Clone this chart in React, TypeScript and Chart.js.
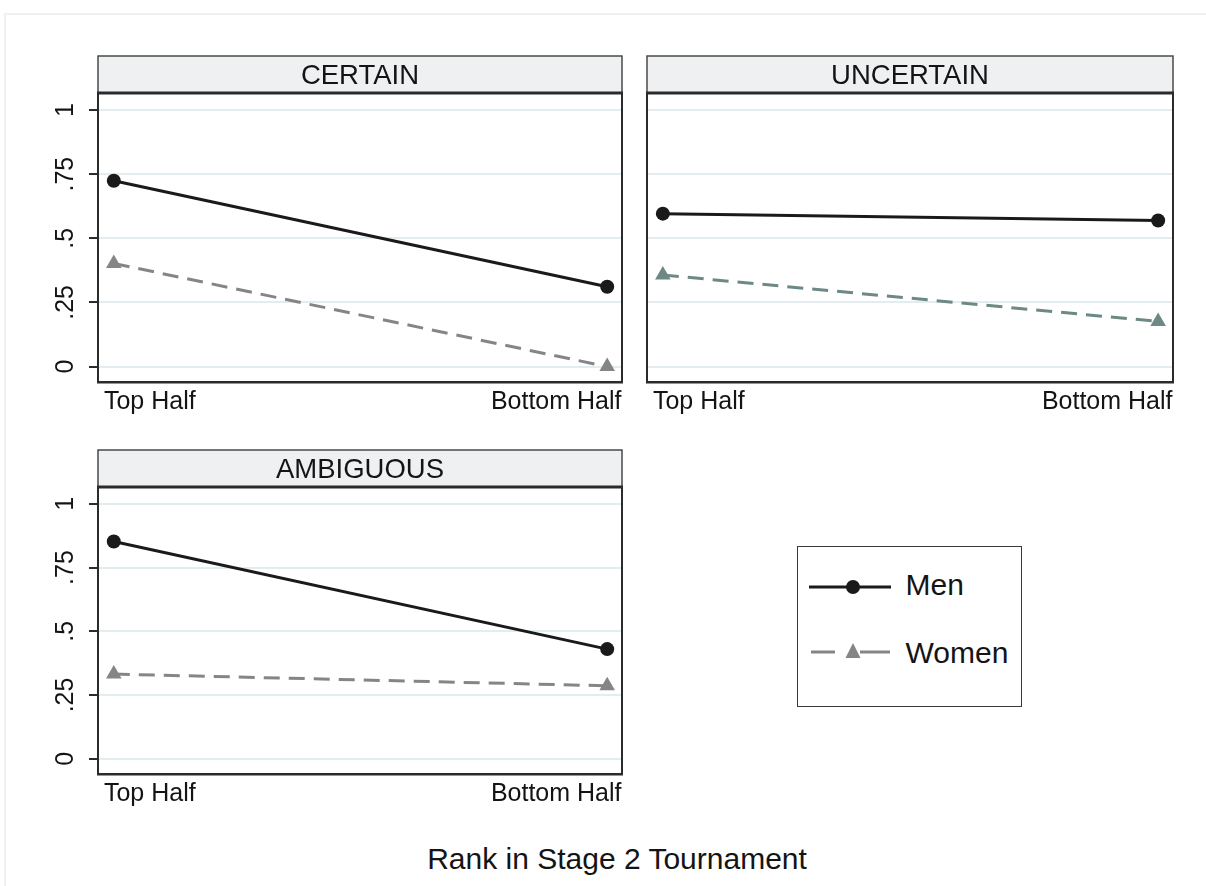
import React, { useEffect, useRef } from "react";
import { Chart, registerables } from "chart.js";

Chart.register(...registerables);

// ---------- data ----------
const categories = ["Top Half", "Bottom Half"];
const panelTitles = ["CERTAIN", "UNCERTAIN", "AMBIGUOUS"];
const seriesNames = ["Men", "Women"];
const menCertain = [0.724, 0.311];
const womenCertain = [0.402, 0.0];
const menUncertain = [0.596, 0.569];
const womenUncertain = [0.357, 0.176];
const menAmbiguous = [0.852, 0.43];
const womenAmbiguous = [0.332, 0.286];
const yTickValues = [0, 0.25, 0.5, 0.75, 1];
const yTickLabels = ["0", ".25", ".5", ".75", "1"];
const xAxisTitle = "Rank in Stage 2 Tournament";

// ---------- style ----------
const FONT = "'Liberation Sans', Arial, Helvetica, sans-serif";
const TEXT = "#141414";
const AXIS = "#2b2b2b";
const GRID = "#e3edf1";
const MEN = "#1a1a1a";
const WOMEN_GRAY = "#858585";
const WOMEN_TEAL = "#6d8985";
const HEADER_FILL = "#eff0f1";
const HEADER_H = 37;
const X_MIN = -0.032;
const X_MAX = 1.03;
const Y_MIN = -0.06;
const Y_MAX = 1.066;

const panelFrame = {
  id: "panelFrame",
  afterDraw(chart: any, _args: any, opts: any) {
    const { ctx, chartArea: a } = chart;
    const top = a.top - HEADER_H;
    ctx.save();
    ctx.fillStyle = HEADER_FILL;
    ctx.fillRect(a.left, top, a.right - a.left, HEADER_H);
    ctx.strokeStyle = "#4a4a4a";
    ctx.lineWidth = 1.5;
    ctx.beginPath();
    ctx.moveTo(a.left, a.top);
    ctx.lineTo(a.left, top);
    ctx.lineTo(a.right, top);
    ctx.lineTo(a.right, a.top);
    ctx.stroke();
    ctx.strokeStyle = AXIS;
    ctx.lineWidth = 3;
    ctx.beginPath();
    ctx.moveTo(a.left - 1, a.top);
    ctx.lineTo(a.right + 1, a.top);
    ctx.stroke();
    ctx.lineWidth = 2;
    ctx.beginPath();
    ctx.moveTo(a.right, a.top);
    ctx.lineTo(a.right, a.bottom + 1);
    ctx.stroke();
    ctx.fillStyle = TEXT;
    ctx.font = `27.5px ${FONT}`;
    ctx.textAlign = "center";
    ctx.textBaseline = "alphabetic";
    ctx.fillText(opts.title, (a.left + a.right) / 2, top + 28);
    ctx.restore();
  },
};

function makeConfig(title: string, men: number[], women: number[], womenColor: string, showY: boolean, yWidth: number): any {
  const xs = categories.map((_, i) => i);
  return {
    type: "line",
    data: {
      datasets: [
        {
          label: seriesNames[0],
          data: xs.map((x, i) => ({ x, y: men[i] })),
          borderColor: MEN,
          backgroundColor: MEN,
          borderWidth: 3,
          pointStyle: "circle",
          pointRadius: 7,
          pointBorderWidth: 0,
          tension: 0,
          clip: false,
        },
        {
          label: seriesNames[1],
          data: xs.map((x, i) => ({ x, y: women[i] })),
          borderColor: womenColor,
          backgroundColor: womenColor,
          borderWidth: 3,
          borderDash: [16, 9],
          pointStyle: "triangle",
          pointRadius: 9,
          pointBorderWidth: 0,
          tension: 0,
          clip: false,
        },
      ],
    },
    options: {
      animation: false,
      responsive: false,
      maintainAspectRatio: false,
      layout: { padding: { top: 53, right: 6, left: 0, bottom: 0 } },
      plugins: {
        legend: { display: false },
        tooltip: { enabled: false },
        title: { display: false },
        panelFrame: { title },
      },
      scales: {
        x: {
          type: "linear",
          min: X_MIN,
          max: X_MAX,
          afterBuildTicks: (s: any) => {
            s.ticks = [{ value: X_MIN + 0.012 }, { value: X_MAX - 0.001 }];
          },
          afterFit: (s: any) => {
            s.height = 40;
          },
          ticks: {
            autoSkip: false,
            align: "inner",
            maxRotation: 0,
            minRotation: 0,
            padding: 5,
            color: TEXT,
            font: { family: FONT, size: 25 },
            callback: (_v: any, i: number) => categories[i],
          },
          grid: { display: false, drawTicks: false },
          border: { display: true, color: AXIS, width: 2.5 },
        },
        y: {
          type: "linear",
          min: Y_MIN,
          max: Y_MAX,
          afterBuildTicks: (s: any) => {
            s.ticks = yTickValues.map((v) => ({ value: v }));
          },
          afterFit: (s: any) => {
            s.width = yWidth;
          },
          ticks: {
            display: showY,
            autoSkip: false,
            minRotation: 90,
            maxRotation: 90,
            crossAlign: "center",
            padding: 6,
            color: TEXT,
            font: { family: FONT, size: 25 },
            callback: (_v: any, i: number) => yTickLabels[i],
          },
          grid: {
            color: GRID,
            lineWidth: 2,
            drawTicks: showY,
            tickLength: 9,
            tickColor: AXIS,
            tickWidth: 2,
          },
          border: { display: true, color: AXIS, width: 2 },
        },
      },
    },
    plugins: [panelFrame],
  };
}

function Panel(props: { left: number; top: number; width: number; height: number; config: any }) {
  const ref = useRef<HTMLCanvasElement | null>(null);
  useEffect(() => {
    if (!ref.current) return;
    const chart = new Chart(ref.current, props.config);
    return () => chart.destroy();
  }, []);
  return (
    <canvas
      ref={ref}
      width={props.width}
      height={props.height}
      style={{ position: "absolute", left: props.left, top: props.top, width: props.width, height: props.height }}
    />
  );
}

export default function App() {
  const configs = [
    makeConfig(panelTitles[0], menCertain, womenCertain, WOMEN_GRAY, true, 78),
    makeConfig(panelTitles[1], menUncertain, womenUncertain, WOMEN_TEAL, false, 10),
    makeConfig(panelTitles[2], menAmbiguous, womenAmbiguous, WOMEN_GRAY, true, 78),
  ];
  return (
    <div
      style={{
        position: "absolute",
        left: 0,
        top: 0,
        width: 1206,
        height: 886,
        background: "#fff",
        overflow: "hidden",
        fontFamily: FONT,
        color: TEXT,
      }}
    >
      <div
        style={{
          position: "absolute",
          left: 4,
          top: 13,
          width: 1220,
          height: 900,
          borderTop: "2px solid #edf1f3",
          borderLeft: "2px solid #edf1f3",
        }}
      />
      <Panel left={20} top={40} width={611} height={382} config={configs[0]} />
      <Panel left={637} top={40} width={545} height={382} config={configs[1]} />
      <Panel left={20} top={434} width={611} height={380} config={configs[2]} />

      {/* legend */}
      <div
        style={{
          position: "absolute",
          left: 797,
          top: 546,
          width: 225,
          height: 161,
          border: "1.5px solid #3a3a3a",
          boxSizing: "border-box",
        }}
      >
        <svg width={225} height={161} style={{ position: "absolute", left: -1.5, top: -1.5 }}>
          <line x1={12} y1={41} x2={94} y2={41} stroke={MEN} strokeWidth={3} />
          <circle cx={56} cy={41} r={7} fill={MEN} />
          <line x1={14} y1={106} x2={38} y2={106} stroke={WOMEN_GRAY} strokeWidth={3} />
          <line x1={63} y1={106} x2={93} y2={106} stroke={WOMEN_GRAY} strokeWidth={3} />
          <polygon points="48.5,112 63.5,112 56,97" fill={WOMEN_GRAY} />
        </svg>
        <div style={{ position: "absolute", left: 107.5, top: 23, fontSize: 30, lineHeight: "30px", whiteSpace: "nowrap" }}>
          {seriesNames[0]}
        </div>
        <div style={{ position: "absolute", left: 107.5, top: 91, fontSize: 30, lineHeight: "30px", whiteSpace: "nowrap" }}>
          {seriesNames[1]}
        </div>
      </div>

      <div
        style={{
          position: "absolute",
          left: 317,
          width: 600,
          top: 844,
          textAlign: "center",
          fontSize: 30,
          lineHeight: "30px",
          whiteSpace: "nowrap",
        }}
      >
        {xAxisTitle}
      </div>
    </div>
  );
}
